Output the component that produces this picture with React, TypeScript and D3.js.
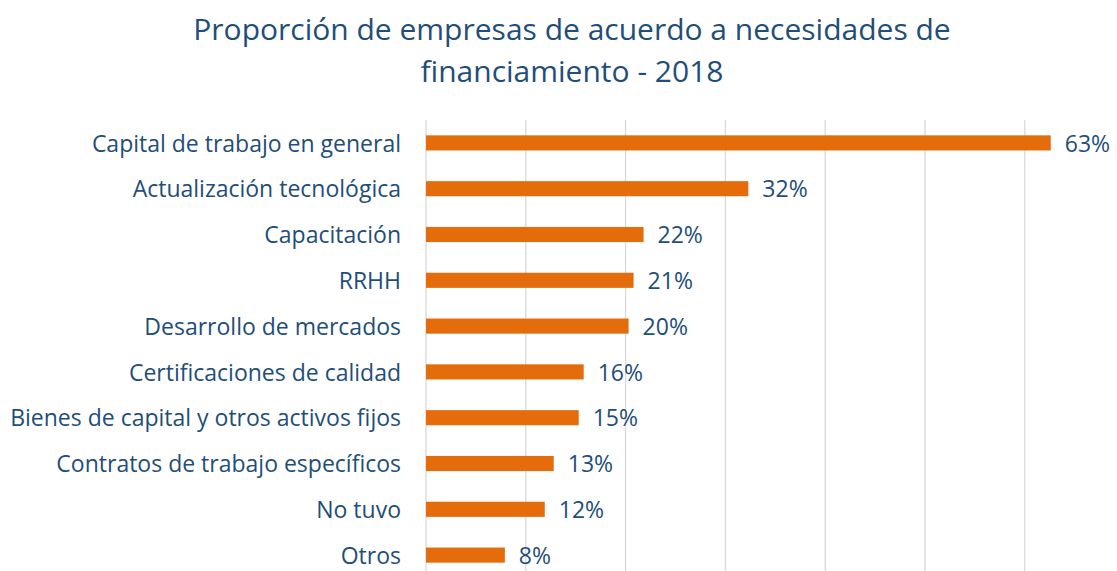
import { useEffect, useRef } from 'react';
import * as d3 from 'd3';

const categories = [
  'Capital de trabajo en general',
  'Actualización tecnológica',
  'Capacitación',
  'RRHH',
  'Desarrollo de mercados',
  'Certificaciones de calidad',
  'Bienes de capital y otros activos fijos',
  'Contratos de trabajo específicos',
  'No tuvo',
  'Otros',
];
const values = [62.6, 32.3, 21.8, 20.8, 20.3, 15.8, 15.3, 12.8, 11.9, 7.9];
const gridTicks = [0, 10, 20, 30, 40, 50, 60, 70];
const titleLines = [
  'Proporción de empresas de acuerdo a necesidades de',
  'financiamiento - 2018',
];

const TEXT = '#1F4E79';
const BAR = '#E46C0A';
const FONT = '"Open Sans", Lato, sans-serif';

function App() {
  const svgRef = useRef<SVGSVGElement>(null);

  useEffect(() => {
    if (!svgRef.current) return;
    const svg = d3.select(svgRef.current);
    svg.selectAll('*').remove();

    const width = 1117;
    const height = 571;

    const x = d3.scaleLinear().domain([0, 70]).range([426, 1124.6]);
    const y = d3.scaleBand<string>()
      .domain(categories)
      .range([120, 578])
      .paddingInner(0.67)
      .paddingOuter(0.335);

    svg.attr('width', width).attr('height', height);

    // title
    svg.append('g')
      .selectAll('text')
      .data(titleLines)
      .enter()
      .append('text')
      .attr('x', 572)
      .attr('y', (_, i) => 40 + i * 42)
      .attr('text-anchor', 'middle')
      .attr('fill', TEXT)
      .attr('font-family', FONT)
      .attr('font-size', 30)
      .text(d => d);

    // vertical gridlines
    svg.append('g')
      .selectAll('line')
      .data(gridTicks)
      .enter()
      .append('line')
      .attr('x1', d => x(d))
      .attr('x2', d => x(d))
      .attr('y1', 120)
      .attr('y2', height)
      .attr('stroke', '#D9D9D9')
      .attr('stroke-width', 1.3);

    // bars
    svg.append('g')
      .selectAll('rect')
      .data(values)
      .enter()
      .append('rect')
      .attr('x', x(0))
      .attr('y', (_, i) => y(categories[i]) as number)
      .attr('width', d => x(d) - x(0))
      .attr('height', y.bandwidth())
      .attr('fill', BAR);

    // value labels
    svg.append('g')
      .selectAll('text')
      .data(values)
      .enter()
      .append('text')
      .attr('x', d => x(d) + 14)
      .attr('y', (_, i) => (y(categories[i]) as number) + y.bandwidth() / 2)
      .attr('dy', '0.38em')
      .attr('fill', TEXT)
      .attr('font-family', FONT)
      .attr('font-size', 23)
      .text(d => `${Math.round(d)}%`);

    // category labels
    svg.append('g')
      .selectAll('text')
      .data(categories)
      .enter()
      .append('text')
      .attr('x', 401)
      .attr('y', d => (y(d) as number) + y.bandwidth() / 2)
      .attr('dy', '0.38em')
      .attr('text-anchor', 'end')
      .attr('fill', TEXT)
      .attr('font-family', FONT)
      .attr('font-size', 23)
      .text(d => d);
  }, []);

  return (
    <svg ref={svgRef} style={{ position: 'absolute', left: 0, top: 0, display: 'block' }} />
  );
}

export default App;
